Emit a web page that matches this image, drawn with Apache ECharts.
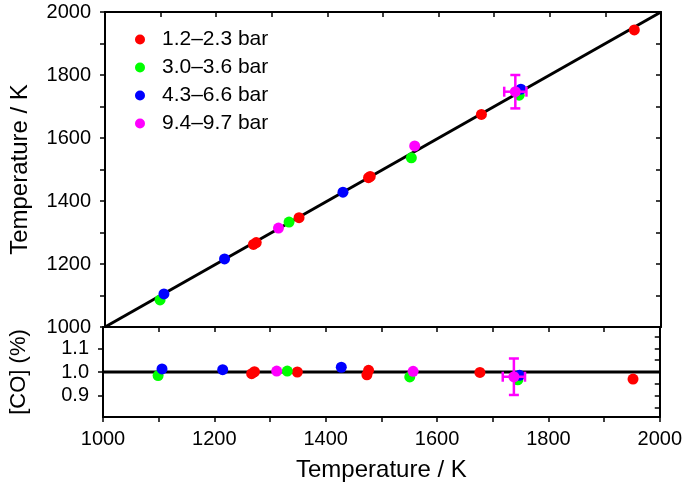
<!DOCTYPE html>
<html>
<head>
<meta charset="utf-8">
<script src="https://cdn.jsdelivr.net/npm/echarts@6/dist/echarts.min.js"></script>
<style>html,body{margin:0;padding:0;background:#fff}#c{width:685px;height:491px}</style>
</head>
<body>
<div id="c"></div>
<script>
// ---- data ----
const legendNames = ['1.2\u20132.3 bar', '3.0\u20133.6 bar', '4.3\u20136.6 bar', '9.4\u20139.7 bar'];
const colors = ['#ff0000', '#00ff00', '#0000ff', '#ff00ff'];

// reference temperature (x), measured temperature (top panel), [CO] (bottom panel)
const redTref = [1267, 1272, 1349, 1474, 1477, 1677, 1952];
const redTmeas = [1262, 1268, 1347, 1474, 1478, 1675, 1943];
const redCO = [0.993, 1.001, 1.000, 0.988, 1.007, 0.998, 0.970];

const greenTref = [1099, 1331, 1551, 1745];
const greenTmeas = [1086, 1333, 1537, 1736];
const greenCO = [0.985, 1.004, 0.979, 0.967];

const blueTref = [1106, 1215, 1428, 1748];
const blueTmeas = [1105, 1216, 1428, 1755];
const blueCO = [1.013, 1.010, 1.020, 0.986];

const magTref = [1312, 1557, 1738];
const magTmeas = [1314, 1575, 1747];
const magCO = [1.004, 1.003, 0.980];

// error bar on the representative magenta point
const errPoint = { tref: 1738, tmeas: 1747, co: 0.980, xErr: 20, yErrT: 53, yErrCO: 0.077 };

const refLineT = [1000, 2000];
const coRef = 1.0;
const coLabelValues = [0.9, 1.0, 1.1];
const coMinorValues = [0.85, 0.9, 0.95, 1.05, 1.1, 1.15];

// ---- chart ----
const FONT = "'Liberation Sans', Arial, sans-serif";
const black = '#000';
const chart = echarts.init(document.getElementById('c'), null, { renderer: 'canvas' });

function zip(a, b) { return a.map((v, i) => [v, b[i]]); }

const groups = [
  [redTref, redTmeas, redCO],
  [greenTref, greenTmeas, greenCO],
  [blueTref, blueTmeas, blueCO],
  [magTref, magTmeas, magCO]
];

const series = [];
series.push({
  type: 'line', xAxisIndex: 0, yAxisIndex: 0, silent: true, symbol: 'none',
  data: [[refLineT[0], refLineT[0]], [refLineT[1], refLineT[1]]],
  lineStyle: { color: black, width: 3 }, z: 1
});
series.push({
  type: 'line', xAxisIndex: 2, yAxisIndex: 2, silent: true, symbol: 'none',
  data: [[refLineT[0], coRef], [refLineT[1], coRef]],
  lineStyle: { color: black, width: 3 }, z: 1
});
groups.forEach((g, i) => {
  series.push({
    name: legendNames[i], type: 'scatter', xAxisIndex: 0, yAxisIndex: 0,
    symbol: 'circle', symbolSize: 11, itemStyle: { color: colors[i], opacity: 1 },
    data: zip(g[0], g[1]), z: 3 + i
  });
  series.push({
    name: legendNames[i], type: 'scatter', xAxisIndex: 2, yAxisIndex: 2,
    symbol: 'circle', symbolSize: 11, itemStyle: { color: colors[i], opacity: 1 },
    data: zip(g[0], g[2]), z: 3 + i
  });
});

function errRender(params, api) {
  const x = api.value(0), y = api.value(1), xe = api.value(2), ye = api.value(3);
  const c = api.coord([x, y]);
  const l = api.coord([x - xe, y]), r = api.coord([x + xe, y]);
  const t = api.coord([x, y + ye]), b = api.coord([x, y - ye]);
  const cap = 5;
  const st = { stroke: '#ff00ff', lineWidth: 2.5 };
  const ln = (x1, y1, x2, y2) => ({ type: 'line', shape: { x1, y1, x2, y2 }, style: st });
  return {
    type: 'group', children: [
      ln(l[0], c[1], r[0], c[1]),
      ln(c[0], t[1], c[0], b[1]),
      ln(l[0], c[1] - cap, l[0], c[1] + cap),
      ln(r[0], c[1] - cap, r[0], c[1] + cap),
      ln(c[0] - cap, t[1], c[0] + cap, t[1]),
      ln(c[0] - cap, b[1], c[0] + cap, b[1])
    ]
  };
}
series.push({
  type: 'custom', xAxisIndex: 0, yAxisIndex: 0, renderItem: errRender, z: 10, silent: true,
  data: [[errPoint.tref, errPoint.tmeas, errPoint.xErr, errPoint.yErrT]]
});
series.push({
  type: 'custom', xAxisIndex: 2, yAxisIndex: 2, renderItem: errRender, z: 10, silent: true,
  data: [[errPoint.tref, errPoint.co, errPoint.xErr, errPoint.yErrCO]]
});

const axLine = { show: true, onZero: false, lineStyle: { color: black, width: 2 } };
const tickIn = { show: true, inside: true, length: 5, lineStyle: { color: black, width: 1.5 } };
const tickOut = { show: true, inside: false, length: 5, lineStyle: { color: black, width: 1.5 } };
const lbl = { color: black, fontSize: 20, fontFamily: FONT };
const hideOdd = v => (Math.round(v) % 200 === 0 ? String(Math.round(v)) : '');

const option = {
  animation: false,
  backgroundColor: '#fff',
  textStyle: { fontFamily: FONT },
  legend: {
    data: legendNames, orient: 'vertical', left: 130, top: 24,
    icon: 'circle', itemWidth: 10, itemHeight: 10, itemGap: 7,
    textStyle: { color: black, fontSize: 21, fontFamily: FONT, padding: [0, 0, 0, 12] },
    selectedMode: false
  },
  grid: [
    { left: 103, right: 24, top: 12, height: 315 },
    { left: 103, right: 24, top: 327, height: 90 }
  ],
  xAxis: [
    { type: 'value', gridIndex: 0, position: 'bottom', min: 1000, max: 2000, interval: 100,
      axisLine: axLine, axisTick: { show: false }, axisLabel: { show: false }, splitLine: { show: false } },
    { type: 'value', gridIndex: 0, position: 'top', min: 1000, max: 2000, interval: 100,
      axisLine: axLine, axisTick: tickIn, axisLabel: { show: false }, splitLine: { show: false } },
    { type: 'value', gridIndex: 1, position: 'bottom', min: 1000, max: 2000, interval: 100,
      axisLine: axLine, axisTick: tickOut,
      axisLabel: Object.assign({ margin: 12, formatter: hideOdd }, lbl), splitLine: { show: false },
      name: 'Temperature / K', nameLocation: 'middle', nameGap: 41,
      nameTextStyle: { color: black, fontSize: 24, fontFamily: FONT } },
    { type: 'value', gridIndex: 1, position: 'top', min: 1000, max: 2000, interval: 100,
      axisLine: axLine, axisTick: tickIn, axisLabel: { show: false }, splitLine: { show: false } }
  ],
  yAxis: [
    { type: 'value', gridIndex: 0, position: 'left', min: 1000, max: 2000, interval: 100,
      axisLine: axLine, axisTick: tickOut,
      axisLabel: Object.assign({ margin: 14, formatter: hideOdd }, lbl), splitLine: { show: false },
      name: 'Temperature / K', nameLocation: 'middle', nameGap: 73,
      nameTextStyle: { color: black, fontSize: 24, fontFamily: FONT } },
    { type: 'value', gridIndex: 0, position: 'right', min: 1000, max: 2000, interval: 100,
      axisLine: axLine, axisTick: tickIn, axisLabel: { show: false }, splitLine: { show: false } },
    { type: 'value', gridIndex: 1, position: 'left', min: 0.81, max: 1.19,
      axisLine: axLine,
      axisTick: Object.assign({ customValues: coLabelValues }, tickOut),
      axisLabel: Object.assign({ margin: 14, customValues: coLabelValues, formatter: v => v.toFixed(1) }, lbl),
      splitLine: { show: false },
      name: '[CO] (%)', nameLocation: 'middle', nameGap: 73,
      nameTextStyle: { color: black, fontSize: 22, fontFamily: FONT } },
    { type: 'value', gridIndex: 1, position: 'right', min: 0.81, max: 1.19,
      axisLine: axLine,
      axisTick: Object.assign({ customValues: coMinorValues }, tickIn),
      axisLabel: { show: false }, splitLine: { show: false } }
  ],
  series: series
};
chart.setOption(option);
</script>
</body>
</html>
